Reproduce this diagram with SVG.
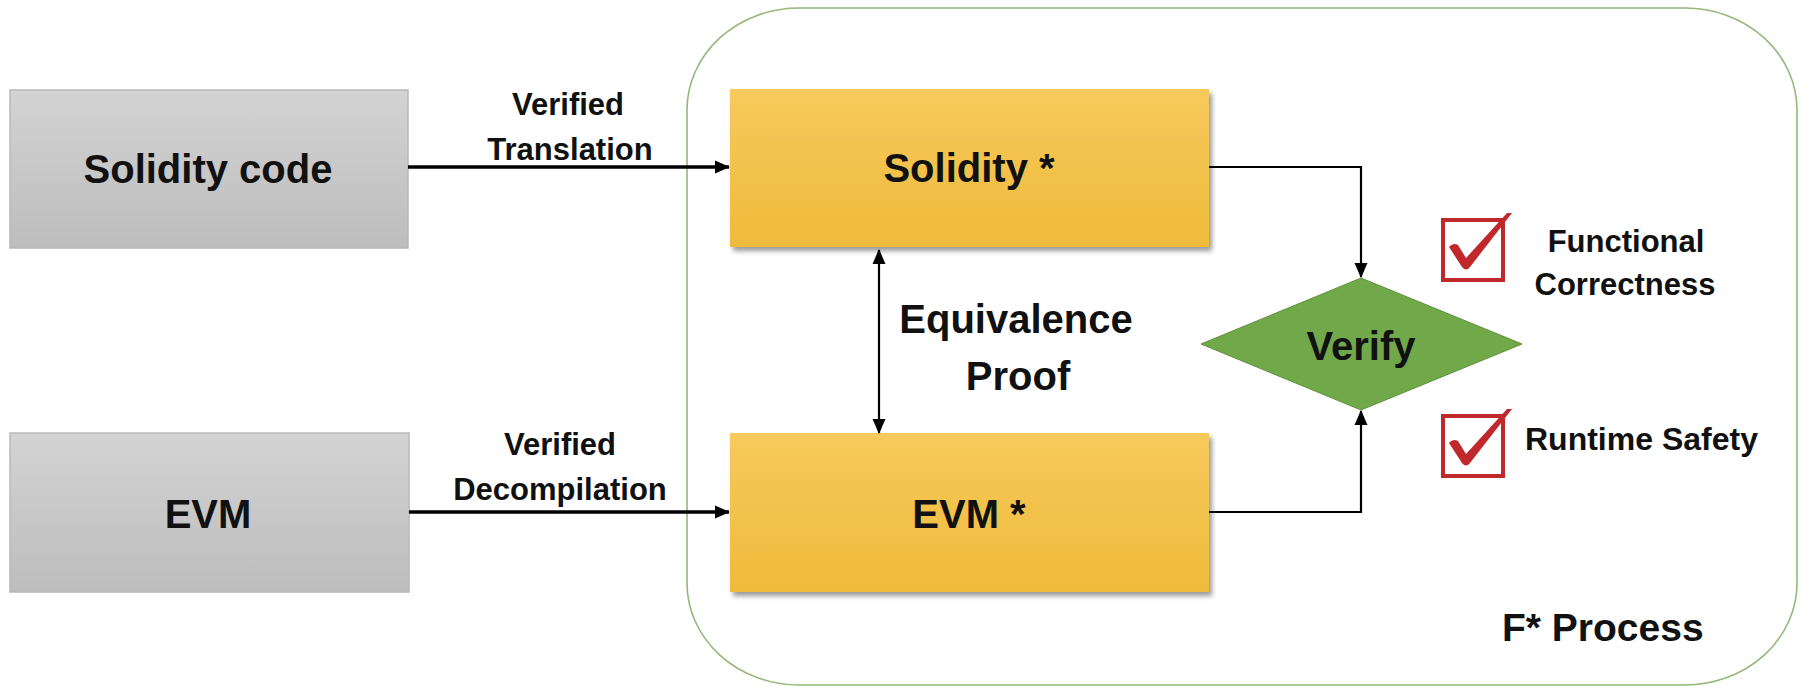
<svg xmlns="http://www.w3.org/2000/svg" width="1810" height="696" viewBox="0 0 1810 696">
  <style>
    text { font-family: "Liberation Sans", Arial, sans-serif; font-weight: bold; fill: #111; }
    .big { font-size: 40px; text-anchor: middle; }
    .lbl { font-size: 31px; text-anchor: middle; }
    .conn { fill: none; stroke: #000; stroke-width: 2.2; }
    .thick { stroke-width: 3.5; }
    .gray { fill: url(#grayGrad); stroke: #b8b8b8; stroke-width: 1.5; }
    .yellow { fill: url(#yelGrad); filter: url(#shadow); }
    .chkbox { fill: none; stroke: #c0282b; stroke-width: 4; }
    .chk { fill: #c0282b; }
  </style>
  <defs>
    <linearGradient id="grayGrad" x1="0" y1="0" x2="0" y2="1">
      <stop offset="0" stop-color="#d3d3d3"/>
      <stop offset="1" stop-color="#bdbdbd"/>
    </linearGradient>
    <linearGradient id="yelGrad" x1="0" y1="0" x2="0" y2="1">
      <stop offset="0" stop-color="#f7c95c"/>
      <stop offset="1" stop-color="#efbb3b"/>
    </linearGradient>
    <filter id="shadow" x="-5%" y="-10%" width="115%" height="130%">
      <feDropShadow dx="3" dy="4" stdDeviation="2.5" flood-color="#000" flood-opacity="0.4"/>
    </filter>
    <marker id="arr" markerUnits="userSpaceOnUse" markerWidth="16" markerHeight="16" refX="14" refY="8" orient="auto-start-reverse">
      <path d="M0,1.5 L15,8 L0,14.5 Z" fill="#000"/>
    </marker>
    <g id="check">
      <rect class="chkbox" x="1443" y="220" width="60" height="60"/>
      <path class="chk" d="M1449,247 Q1453,242 1458,245 L1466,258 L1507,213 L1512,213 L1470,267 Q1466,272 1462,267 Z"/>
    </g>
  </defs>

  <g id="fstar-process">
    <rect x="687" y="8" width="1110" height="677" rx="112" ry="102" fill="#fff" stroke="#93b878" stroke-width="1.6"/>
    <text x="1502" y="641" style="font-size:39px">F* Process</text>
  </g>

  <g id="solidity-code">
    <rect class="gray" x="10" y="90" width="398" height="158"/>
    <text class="big" x="208" y="183">Solidity code</text>
  </g>

  <g id="evm">
    <rect class="gray" x="10" y="433" width="399" height="159"/>
    <text class="big" x="208" y="528">EVM</text>
  </g>

  <g id="solidity-star">
    <rect class="yellow" x="730" y="89" width="479" height="158"/>
    <text class="big" x="969" y="182">Solidity *</text>
  </g>

  <g id="evm-star">
    <rect class="yellow" x="730" y="433" width="479" height="159"/>
    <text class="big" x="969" y="528">EVM *</text>
  </g>

  <g id="verify">
    <polygon points="1361,278 1522,344 1361,410 1201,344" fill="#71a94a" stroke="#5f903d" stroke-width="1"/>
    <text class="big" x="1361" y="360">Verify</text>
  </g>

  <g id="functional-correctness">
    <use href="#check"/>
    <text class="lbl" x="1626" y="252">Functional</text>
    <text class="lbl" x="1625" y="295">Correctness</text>
  </g>

  <g id="runtime-safety">
    <use href="#check" transform="translate(0,196)"/>
    <text x="1525" y="450" style="font-size:32px">Runtime Safety</text>
  </g>

  <g id="connectors">
    <line class="conn thick" x1="408" y1="167" x2="729" y2="167" marker-end="url(#arr)"/>
    <line class="conn thick" x1="409" y1="512" x2="729" y2="512" marker-end="url(#arr)"/>
    <polyline class="conn" points="1209,167 1361,167 1361,277" marker-end="url(#arr)"/>
    <polyline class="conn" points="1209,512 1361,512 1361,411" marker-end="url(#arr)"/>
    <line class="conn" x1="879" y1="250" x2="879" y2="433" marker-start="url(#arr)" marker-end="url(#arr)"/>
    <text class="lbl" x="568" y="115">Verified</text>
    <text class="lbl" x="570" y="160">Translation</text>
    <text class="lbl" x="560" y="455">Verified</text>
    <text class="lbl" x="560" y="500">Decompilation</text>
    <text class="big" x="1016" y="333">Equivalence</text>
    <text class="big" x="1018" y="390">Proof</text>
  </g>
</svg>
